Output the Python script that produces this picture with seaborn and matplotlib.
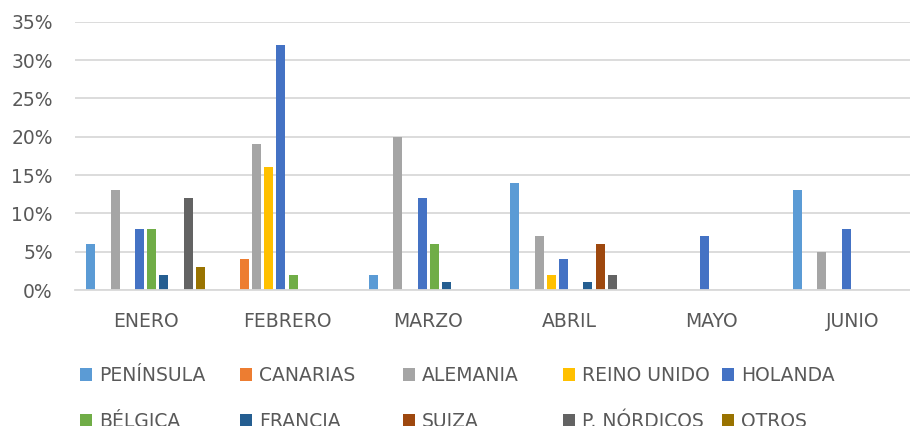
import matplotlib
matplotlib.use("Agg")
import matplotlib.pyplot as plt
import seaborn as sns
import pandas as pd

# Porcentaje mensual de visitantes por procedencia
meses = ["ENERO", "FEBRERO", "MARZO", "ABRIL", "MAYO", "JUNIO"]
peninsula = [6, 0, 2, 14, 0, 13]
canarias = [0, 4, 0, 0, 0, 0]
alemania = [13, 19, 20, 7, 0, 5]
reino_unido = [0, 16, 0, 2, 0, 0]
holanda = [8, 32, 12, 4, 7, 8]
belgica = [8, 2, 6, 0, 0, 0]
francia = [2, 0, 1, 1, 0, 0]
suiza = [0, 0, 0, 6, 0, 0]
nordicos = [12, 0, 0, 2, 0, 0]
otros = [3, 0, 0, 0, 0, 0]

origenes = ["PENÍNSULA", "CANARIAS", "ALEMANIA", "REINO UNIDO", "HOLANDA",
            "BÉLGICA", "FRANCIA", "SUIZA", "P. NÓRDICOS", "OTROS"]
series = [peninsula, canarias, alemania, reino_unido, holanda,
          belgica, francia, suiza, nordicos, otros]
colores = ["#5B9BD5", "#ED7D31", "#A5A5A5", "#FFC000", "#4472C4",
           "#70AD47", "#255E91", "#9E480E", "#636363", "#997300"]

df = pd.DataFrame(
    [(m, o, v) for o, vals in zip(origenes, series) for m, v in zip(meses, vals)],
    columns=["mes", "origen", "valor"],
)

sns.set_style("white")
plt.rcParams["font.family"] = ["DejaVu Sans"]
texto = "#595959"

W, H = 910, 426
fig = plt.figure(figsize=(W / 100, H / 100), dpi=100)
ax = fig.add_axes([75 / W, 136 / H, 848 / W, 268.3 / H])

sns.barplot(data=df, x="mes", y="valor", hue="origen", order=meses,
            hue_order=origenes, palette=colores, saturation=1,
            width=0.863, gap=0.26, linewidth=0, errorbar=None, ax=ax)

handles, labels = ax.get_legend_handles_labels()
ax.legend_.remove()

ax.set_xlim(-0.5, 5.5)
ax.set_ylim(0, 35)
ax.set_yticks(range(0, 36, 5))
ax.set_yticklabels([f"{v}%" for v in range(0, 36, 5)])
ax.set_xlabel("")
ax.set_ylabel("")
ax.yaxis.grid(True, color="#d9d9d9", linewidth=1.3)
ax.set_axisbelow(True)
for s in ["top", "right", "left"]:
    ax.spines[s].set_visible(False)
ax.spines["bottom"].set_color("#d9d9d9")
ax.spines["bottom"].set_linewidth(1.3)
ax.tick_params(axis="both", length=0, labelsize=13.5, labelcolor=texto)
ax.tick_params(axis="x", pad=16)
ax.tick_params(axis="y", pad=16)

# Leyenda en cinco columnas de dos filas
columnas_x = [80, 240, 403, 563, 722]
for i, x in enumerate(columnas_x):
    fig.legend([handles[i], handles[i + 5]], [labels[i], labels[i + 5]],
               loc="upper left", bbox_to_anchor=(x / W, (H - 366) / H),
               frameon=False, fontsize=13.5, labelcolor=texto,
               handlelength=0.65, handleheight=0.65, handletextpad=0.35,
               labelspacing=1.42, borderpad=0, borderaxespad=0)

fig.savefig("out.png", dpi=100, facecolor="white")
